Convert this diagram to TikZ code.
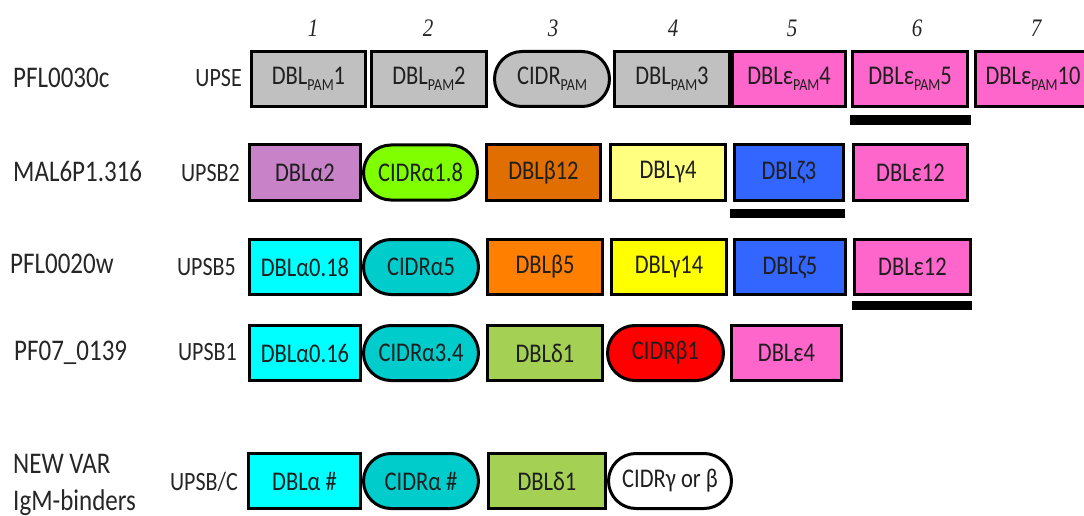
\documentclass[tikz,border=0pt]{standalone}
\usepackage{fontspec}
\usepackage{graphicx}
\setmainfont{Carlito}
\newfontfamily\numfont{Liberation Serif}
\usetikzlibrary{shapes.misc}

% domain colours
\definecolor{pamgray}{RGB}{192,192,192}
\definecolor{epspink}{RGB}{255,102,204}
\definecolor{alphapurple}{RGB}{200,130,200}
\definecolor{limegreen}{RGB}{128,255,0}
\definecolor{betadark}{RGB}{225,110,0}
\definecolor{gammalight}{RGB}{255,255,128}
\definecolor{zetablue}{RGB}{51,102,255}
\definecolor{alphacyan}{RGB}{0,255,255}
\definecolor{cidrteal}{RGB}{0,204,204}
\definecolor{betaorange}{RGB}{255,128,0}
\definecolor{gammayellow}{RGB}{255,255,0}
\definecolor{deltagreen}{RGB}{164,208,84}
\definecolor{cidrred}{RGB}{255,0,0}

% text set slightly taller than wide
\newcommand{\vstretch}[1]{\scalebox{1}[1.2]{#1}}
\newcommand{\pam}{\raisebox{-0.22em}{\fontsize{14}{14}\selectfont PAM}}

\tikzset{
  dom/.style={draw=black, line width=3pt, rectangle, inner sep=0pt,
    minimum height=55pt, font=\fontsize{22.5}{27}\selectfont, text=black!88},
  cidr/.style={dom, rounded rectangle},
  rowlabel/.style={anchor=base west, inner sep=0pt,
    font=\fontsize{25}{30}\selectfont, text=black!85},
  upslabel/.style={anchor=base east, inner sep=0pt,
    font=\fontsize{22}{26}\selectfont, text=black!85},
  colnum/.style={anchor=base, inner sep=0pt,
    font=\numfont\itshape\fontsize{21}{25}\selectfont, text=black!85},
  barfill/.style={fill=black}
}

\begin{document}
\begin{tikzpicture}[x=1pt, y=-1pt]
\useasboundingbox (0,0) rectangle (1084,516);

% column numbers
\node[colnum] (n1) at (313,37)  {\vstretch{1}};
\node[colnum] (n2) at (428,37)  {\vstretch{2}};
\node[colnum] (n3) at (553,37)  {\vstretch{3}};
\node[colnum] (n4) at (673,37)  {\vstretch{4}};
\node[colnum] (n5) at (792,37)  {\vstretch{5}};
\node[colnum] (n6) at (917,37)  {\vstretch{6}};
\node[colnum] (n7) at (1036,37) {\vstretch{7}};

% gene names
\node[rowlabel] (g1)  at (13,88)  {\vstretch{PFL0030c}};
\node[rowlabel] (g2)  at (13,182) {\vstretch{MAL6P1.316}};
\node[rowlabel] (g3)  at (10,273) {\vstretch{PFL0020w}};
\node[rowlabel] (g4)  at (14,360) {\vstretch{PF07\_0139}};
\node[rowlabel] (g5a) at (13,473) {\vstretch{NEW VAR}};
\node[rowlabel] (g5b) at (13,510) {\vstretch{IgM-binders}};

% upstream sequence types
\node[upslabel] (u1) at (242,87)  {\vstretch{UPSE}};
\node[upslabel] (u2) at (240,181) {\vstretch{UPSB2}};
\node[upslabel] (u3) at (236,275) {\vstretch{UPSB5}};
\node[upslabel] (u4) at (237,360) {\vstretch{UPSB1}};
\node[upslabel] (u5) at (238,490) {\vstretch{UPSB/C}};

% PFL0030c
\node[dom,  fill=pamgray, minimum width=114pt] (a1) at (308.5,79) {\vstretch{DBL\pam1}};
\node[dom,  fill=pamgray, minimum width=115pt] (a2) at (429,79)   {\vstretch{DBL\pam2}};
\node[cidr, fill=pamgray, minimum width=115pt] (a3) at (552,79)   {\vstretch{CIDR\pam}};
\node[dom,  fill=pamgray, minimum width=115pt] (a4) at (672,79)   {\vstretch{DBL\pam3}};
\node[dom,  fill=epspink, minimum width=113pt] (a5) at (789,79)   {\vstretch{DBLε\pam4}};
\node[dom,  fill=epspink, minimum width=115pt] (a6) at (910,79)   {\vstretch{DBLε\pam5}};
\node[dom,  fill=epspink, minimum width=115pt] (a7) at (1033,79)  {\vstretch{DBLε\pam10}};
\fill[barfill] ([xshift=-1.5pt,yshift=-7.5pt]a6.south west) rectangle ([xshift=1.5pt,yshift=-17.5pt]a6.south east);

% MAL6P1.316
\node[dom,  fill=alphapurple, minimum width=111pt] (b1) at (305,172.5)   {\vstretch{DBLα2}};
\node[cidr, fill=limegreen,   minimum width=114pt] (b2) at (420.5,172.5) {\vstretch{CIDRα1.8}};
\node[dom,  fill=betadark,    minimum width=114pt] (b3) at (543.5,172.5) {\vstretch{DBLβ12}};
\node[dom,  fill=gammalight,  minimum width=115pt] (b4) at (668,172.5)   {\vstretch{DBLγ4}};
\node[dom,  fill=zetablue,    minimum width=109pt] (b5) at (789,172.5)   {\vstretch{DBLζ3}};
\node[dom,  fill=epspink,     minimum width=114pt] (b6) at (910.5,172.5) {\vstretch{DBLε12}};
\fill[barfill] ([xshift=-3.5pt,yshift=-7.5pt]b5.south west) rectangle ([xshift=-0.5pt,yshift=-16.5pt]b5.south east);

% PFL0020w
\node[dom,  fill=alphacyan,   minimum width=111pt] (c1) at (305,267)   {\vstretch{DBLα0.18}};
\node[cidr, fill=cidrteal,    minimum width=115pt] (c2) at (421,267)   {\vstretch{CIDRα5}};
\node[dom,  fill=betaorange,  minimum width=115pt] (c3) at (545,267)   {\vstretch{DBLβ5}};
\node[dom,  fill=gammayellow, minimum width=115pt] (c4) at (669,267)   {\vstretch{DBLγ14}};
\node[dom,  fill=zetablue,    minimum width=111pt] (c5) at (790,267)   {\vstretch{DBLζ5}};
\node[dom,  fill=epspink,     minimum width=116pt] (c6) at (912.5,267) {\vstretch{DBLε12}};
\fill[barfill] ([xshift=-1.5pt,yshift=-4.5pt]c6.south west) rectangle ([xshift=-0.5pt,yshift=-13.5pt]c6.south east);

% PF07_0139
\node[dom,  fill=alphacyan,  minimum width=111pt] (d1) at (305,353)   {\vstretch{DBLα0.16}};
\node[cidr, fill=cidrteal,   minimum width=115pt] (d2) at (421,353)   {\vstretch{CIDRα3.4}};
\node[dom,  fill=deltagreen, minimum width=115pt] (d3) at (545,353)   {\vstretch{DBLδ1}};
\node[cidr, fill=cidrred,    minimum width=116pt] (d4) at (665.5,353) {\vstretch{CIDRβ1}};
\node[dom,  fill=epspink,    minimum width=110pt] (d5) at (786.5,353) {\vstretch{DBLε4}};

% NEW VAR IgM-binders
\node[dom,  fill=alphacyan,  minimum width=112pt] (e1) at (304.5,481) {\vstretch{DBLα \#}};
\node[cidr, fill=cidrteal,   minimum width=115pt] (e2) at (421,481)   {\vstretch{CIDRα \#}};
\node[dom,  fill=deltagreen, minimum width=117pt] (e3) at (547,481)   {\vstretch{DBLδ1}};
\node[cidr, fill=white,      minimum width=123pt] (e4) at (670,481)   {\vstretch{CIDRγ or β}};
\end{tikzpicture}
\end{document}
